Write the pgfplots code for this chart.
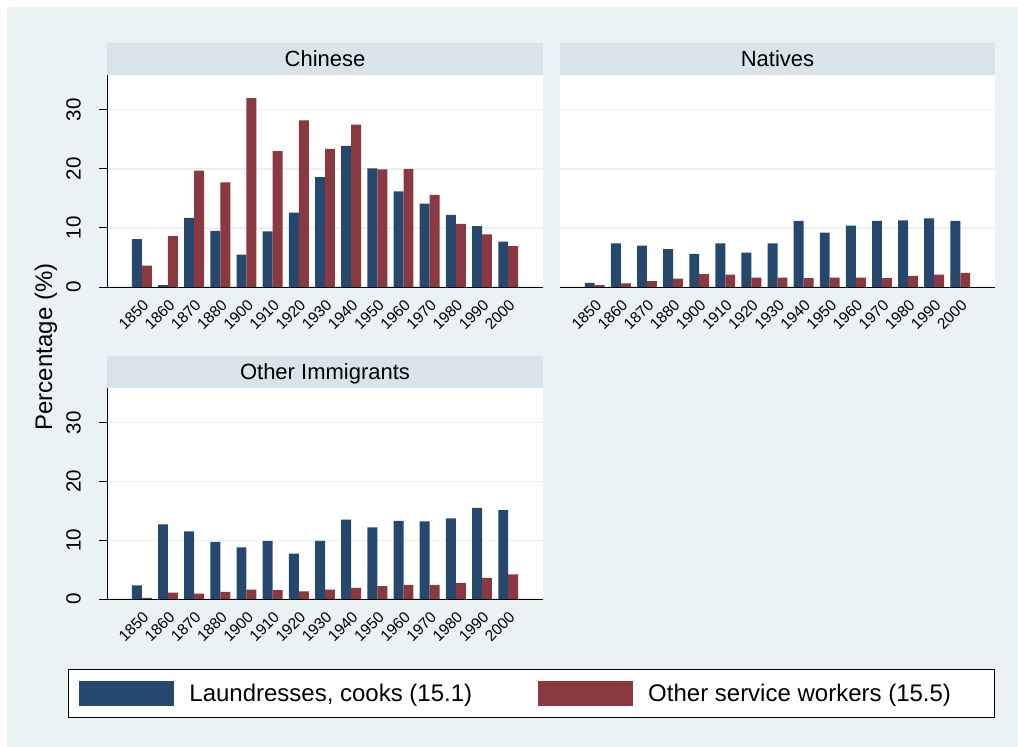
\documentclass[border=0pt]{standalone}
\usepackage{pgfplots}
\usepackage{pgfplotstable}
\pgfplotsset{compat=1.18}
\usepackage{fontspec}
\setmainfont{Liberation Sans}
\definecolor{bgc}{RGB}{234,242,243}
\definecolor{headc}{RGB}{216,228,233}
\definecolor{gridc}{RGB}{234,242,243}
\definecolor{sblue}{RGB}{38,72,110}
\definecolor{sred}{RGB}{139,57,64}

% x: 0=1850,1=1860,2=1870,3=1880,4=1900,...,14=2000
\pgfplotstableread{
x lc os
0 8.1 3.6
1 0.3 8.6
2 11.7 19.7
3 9.5 17.7
4 5.5 32.0
5 9.4 23.0
6 12.6 28.2
7 18.6 23.4
8 23.9 27.5
9 20.1 19.9
10 16.2 20.0
11 14.1 15.6
12 12.2 10.7
13 10.3 8.9
14 7.7 6.9
}\chinese
\pgfplotstableread{
x lc os
0 0.7 0.3
1 7.4 0.6
2 7.0 1.0
3 6.4 1.4
4 5.6 2.2
5 7.4 2.1
6 5.8 1.6
7 7.4 1.6
8 11.2 1.5
9 9.2 1.6
10 10.4 1.6
11 11.2 1.5
12 11.3 1.9
13 11.6 2.1
14 11.2 2.4
}\natives
\pgfplotstableread{
x lc os
0 2.3 0.2
1 12.7 1.1
2 11.5 0.9
3 9.7 1.2
4 8.8 1.6
5 9.9 1.5
6 7.7 1.3
7 9.9 1.6
8 13.5 1.9
9 12.2 2.2
10 13.3 2.4
11 13.2 2.4
12 13.7 2.7
13 15.5 3.6
14 15.1 4.2
}\others

\pgfplotsset{
  panel/.style={
    scale only axis,
    xmin=-1.33, xmax=15.33,
    ymin=0, ymax=35.9,
    axis background/.style={fill=white},
    axis x line*=bottom,
    axis y line*=left,
    axis line style={black, line width=0.9pt},
    every tick/.style={black, line width=0.9pt},
    tick align=outside,
    ytick={0,10,20,30},
    ymajorgrids,
    grid style={gridc, line width=1.3pt},
    y tick label style={rotate=90, anchor=south, inner sep=0pt, font=\fontsize{20.5}{24}\selectfont},
    yticklabel shift=18pt,
    major tick length=8pt,
    xtick={0,...,14},
    xticklabels={1850,1860,1870,1880,1900,1910,1920,1930,1940,1950,1960,1970,1980,1990,2000},
    x tick style={draw=none},
    x tick label style={rotate=45, anchor=north east, inner sep=0pt, font=\fontsize{15.5}{18}\selectfont},
    xticklabel shift=3pt,
    /pgf/number format/assume math mode=true,
    every axis title shift=0pt,
    title style={at={(0.5,1)}, anchor=south, fill=headc, minimum height=32pt, inner sep=0pt, outer sep=0pt,
      text height=16pt, text depth=0pt, yshift=0pt, font=\fontsize{22}{26}\selectfont},
    bar width=0.38,
  },
  lcbar/.style={ybar, bar shift=-0.19, fill=sblue, draw=none},
  osbar/.style={ybar, bar shift=0.19, fill=sred, draw=none},
}

\begin{document}
\begin{tikzpicture}
\useasboundingbox (0pt,0pt) rectangle (1018pt,747pt);
\fill[white] (0pt,0pt) rectangle (1018pt,747pt);
\fill[bgc] (7pt,0pt) rectangle (1018pt,740pt);

\begin{axis}[panel, width=436pt, height=212pt, at={(107pt,460pt)}, anchor=south west,
  title style={minimum width=436pt}, title={Chinese}]
  \addplot[lcbar] table[x=x,y=lc]{\chinese};
  \addplot[osbar] table[x=x,y=os]{\chinese};
\end{axis}

\begin{axis}[panel, width=435pt, height=212pt, at={(560pt,460pt)}, anchor=south west,
  title style={minimum width=435pt}, title={Natives},
  y axis line style={draw=none}, yticklabels={}, ytick style={draw=none}]
  \addplot[lcbar] table[x=x,y=lc]{\natives};
  \addplot[osbar] table[x=x,y=os]{\natives};
\end{axis}

\begin{axis}[panel, width=436pt, height=211pt, at={(107pt,148pt)}, anchor=south west,
  title style={minimum width=436pt}, title={Other Immigrants},
  legend columns=2,
  legend style={at={(-0.0894,-0.3318)}, anchor=north west, draw=black, line width=0.8pt, fill=white,
    inner xsep=11pt, inner ysep=11.5pt,
    nodes={inner sep=0pt, font=\fontsize{24}{28}\selectfont},
    /tikz/every odd column/.append style={column sep=15pt},
    /tikz/every even column/.append style={column sep=66pt}},
  legend image code/.code={\fill[#1] (0pt,-12.5pt) rectangle (95pt,12.5pt);},
  ]
  \addplot[lcbar] table[x=x,y=lc]{\others};
  \addlegendentry{Laundresses, cooks (15.1)}
  \addplot[osbar] table[x=x,y=os]{\others};
  \addlegendentry{Other service workers (15.5)\hspace*{32pt}}
\end{axis}

\node[rotate=90, font=\fontsize{24}{28}\selectfont] at (46pt,400pt) {Percentage (\%)};
\end{tikzpicture}
\end{document}
